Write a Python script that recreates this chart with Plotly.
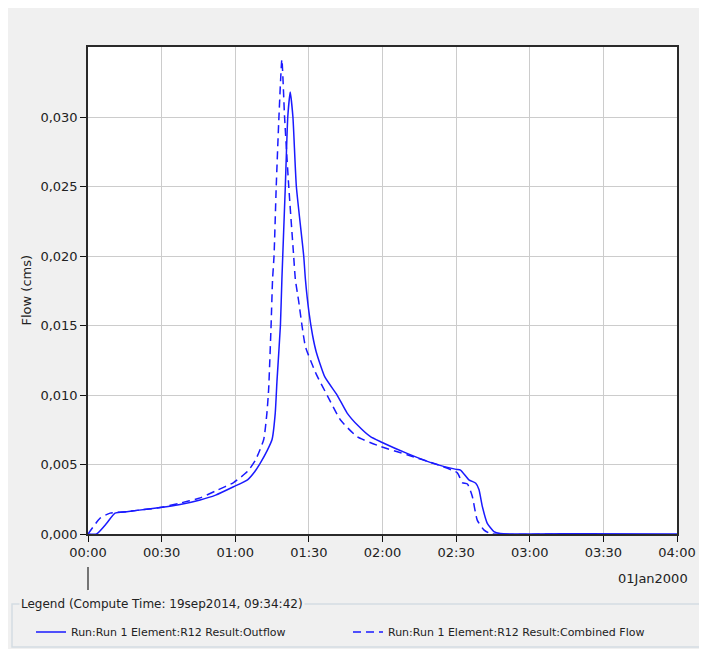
import plotly.graph_objects as go
import pandas as pd

# data (time in minutes from 00:00, flow in cms)
outflow_min = [0, 3.5, 7.6, 11, 15.8, 20, 29.4, 37, 45.7, 52, 59.3, 65, 68, 70.2,
               73, 75, 76.3, 77, 78.4, 79, 80.4, 81.4, 82.4, 83.5, 84.9, 87.9,
               88.6, 90, 91.5, 93, 96.5, 101.5, 105.6, 110, 115.1, 119.2,
               130, 140.3, 150, 151.8, 155.2, 158, 159.3, 160.7, 162.7, 165.4,
               168, 202, 240]
outflow_cms = [0, 0, 0.00077, 0.0015, 0.0016, 0.0017, 0.0019, 0.0021, 0.00245,
               0.0028, 0.0034, 0.0039, 0.0045, 0.0051, 0.0060, 0.0068, 0.0087,
               0.0110, 0.0150, 0.0183, 0.0250, 0.0300, 0.0318, 0.0300, 0.0250,
               0.0200, 0.0183, 0.0160, 0.0143, 0.0131, 0.0113, 0.0100, 0.0087,
               0.0078, 0.0070, 0.00664, 0.0058, 0.0051, 0.00465, 0.0046, 0.0039,
               0.00365, 0.0032, 0.00197, 0.00077, 0.00017, 0.00003, 0.00002, 0]

combined_min = [0, 4.9, 9, 15.8, 20, 29.4, 37, 45.7, 52, 59.3, 65, 68.2, 71.6,
                72.9, 73.6, 74.6, 75.2, 75.8, 76.7, 77.8, 79.0, 80.1, 81.8, 83.8,
                84.5, 85.8, 87.2, 88.6, 93, 97.4, 102.9, 109.7, 119.2, 130, 142.3,
                150.5, 152.5, 154.6, 156.6, 158.6, 161.3, 164, 202]
combined_cms = [0, 0.00113, 0.0015, 0.0016, 0.0017, 0.0019, 0.0022, 0.0026,
                0.0031, 0.0037, 0.0045, 0.0053, 0.0068, 0.0087, 0.0104, 0.0150,
                0.0183, 0.0200, 0.0250, 0.0300, 0.03415, 0.0300, 0.0250, 0.0200,
                0.0183, 0.0168, 0.0150, 0.01348, 0.0115, 0.0100, 0.0082, 0.0070,
                0.0063, 0.0057, 0.0050, 0.0044, 0.0037, 0.0036, 0.0027, 0.0010,
                0.0003, 0.00003, 0.00002]

y_ticks = [0, 0.005, 0.010, 0.015, 0.020, 0.025, 0.030]

start = pd.Timestamp("2000-01-01 00:00")
outflow_t = start + pd.to_timedelta(outflow_min, unit="min")
combined_t = start + pd.to_timedelta(combined_min, unit="min")

# plot area in page pixels (page has an 8px body margin around the figure)
L, R, T, B = 88, 677, 47, 534
W, H = 698, 641
OFF = 8


def px(x):
    return (x - L) / (R - L)


def py(y):
    return (B - y) / (B - T)


fig = go.Figure()

fig.add_trace(
    go.Scatter(
        x=outflow_t,
        y=outflow_cms,
        mode="lines",
        line=dict(color="#1a1aff", width=1.5, shape="spline", smoothing=0.5),
        name="Run:Run 1 Element:R12 Result:Outflow",
    )
)
fig.add_trace(
    go.Scatter(
        x=combined_t,
        y=combined_cms,
        mode="lines",
        line=dict(color="#1a1aff", width=1.5, dash="8px,5px", shape="spline",
                  smoothing=0.5),
        name="Run:Run 1 Element:R12 Result:Combined Flow",
    )
)

font = "DejaVu Sans"

fig.update_layout(
    width=W,
    height=H,
    margin=dict(l=L - OFF, r=OFF + W - R, t=T - OFF, b=OFF + H - B, pad=0,
                autoexpand=False),
    paper_bgcolor="#f0f0f0",
    plot_bgcolor="white",
    separators=",.",
    font=dict(family=font, size=13, color="#222"),
    showlegend=True,
    legend=dict(
        orientation="h",
        x=px(31),
        xanchor="left",
        y=py(632),
        yanchor="middle",
        font=dict(family=font, size=11, color="#222"),
        bgcolor="rgba(0,0,0,0)",
        entrywidth=272,
        entrywidthmode="pixels",
    ),
    xaxis=dict(
        type="date",
        range=[start, start + pd.Timedelta(minutes=240)],
        tickformat="%H:%M",
        tick0=start,
        dtick=30 * 60 * 1000,
        showgrid=True,
        gridcolor="#cccccc",
        gridwidth=1,
        ticks="outside",
        ticklen=6,
        tickcolor="#111",
        showline=True,
        linecolor="#2a2a2a",
        linewidth=1.5,
        mirror=True,
        zeroline=False,
        tickfont=dict(family=font, size=13, color="#222"),
    ),
    yaxis=dict(
        range=[0, 0.03504],
        tickmode="array",
        tickvals=y_ticks,
        tickformat=".3f",
        showgrid=True,
        gridcolor="#cccccc",
        gridwidth=1,
        ticks="outside",
        ticklen=6,
        tickcolor="#111",
        showline=True,
        linecolor="#2a2a2a",
        linewidth=1.5,
        mirror=True,
        zeroline=False,
        tickfont=dict(family=font, size=13, color="#222"),
    ),
)

# y title, date label, legend caption
fig.add_annotation(
    x=px(26), y=0.5, xref="paper", yref="paper", text="Flow (cms)",
    textangle=-90, xanchor="center", yanchor="middle", showarrow=False,
    font=dict(family=font, size=13, color="#222"),
)
fig.add_annotation(
    x=px(690), y=py(578), xref="paper", yref="paper", text="01Jan2000",
    xanchor="right", yanchor="middle", showarrow=False,
    font=dict(family=font, size=13, color="#222"),
)

# legend frame (fieldset style) with caption over the border
fig.add_shape(
    type="rect", xref="paper", yref="paper",
    x0=px(12), x1=px(704), y0=py(647), y1=py(604),
    line=dict(color="#d3dce2", width=1.5), fillcolor="rgba(0,0,0,0)",
)
fig.add_annotation(
    x=px(19), y=py(604), xref="paper", yref="paper",
    text="Legend (Compute Time: 19sep2014, 09:34:42)",
    xanchor="left", yanchor="middle", showarrow=False, bgcolor="#f0f0f0",
    borderpad=1, font=dict(family=font, size=12, color="#222"),
)

# day marker tick under 00:00
fig.add_shape(
    type="line", xref="paper", yref="paper",
    x0=px(88), x1=px(88), y0=py(567), y1=py(590),
    line=dict(color="#222", width=1.2),
)

fig.write_html("out.html")
